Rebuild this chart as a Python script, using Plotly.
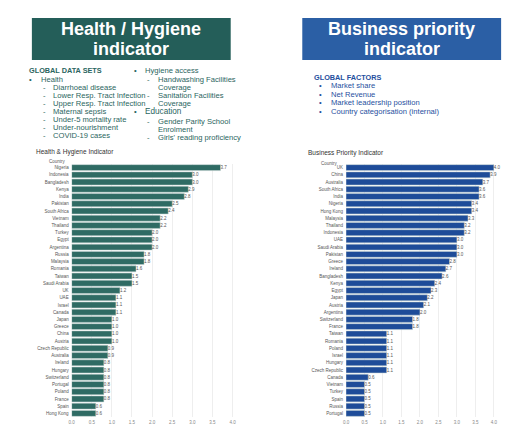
import plotly.graph_objects as go

# Health & Hygiene indicator
hh_countries = ['Nigeria', 'Indonesia', 'Bangladesh', 'Kenya', 'India', 'Pakistan', 'South Africa',
                'Vietnam', 'Thailand', 'Turkey', 'Egypt', 'Argentina', 'Russia', 'Malaysia', 'Romania',
                'Taiwan', 'Saudi Arabia', 'UK', 'UAE', 'Israel', 'Canada', 'Japan', 'Greece', 'China',
                'Austria', 'Czech Republic', 'Australia', 'Ireland', 'Hungary', 'Switzerland',
                'Portugal', 'Poland', 'France', 'Spain', 'Hong Kong']
hh_values = [3.7, 3.0, 3.0, 2.9, 2.8, 2.5, 2.4, 2.2, 2.2, 2.0, 2.0, 2.0, 1.8, 1.8, 1.6, 1.5, 1.5,
             1.2, 1.1, 1.1, 1.1, 1.0, 1.0, 1.0, 1.0, 0.9, 0.9, 0.8, 0.8, 0.8, 0.8, 0.8, 0.8, 0.6, 0.6]

# Business priority indicator
bp_countries = ['UK', 'China', 'Australia', 'South Africa', 'India', 'Nigeria', 'Hong Kong',
                'Malaysia', 'Thailand', 'Indonesia', 'UAE', 'Saudi Arabia', 'Pakistan', 'Greece',
                'Ireland', 'Bangladesh', 'Kenya', 'Egypt', 'Japan', 'Austria', 'Argentina',
                'Switzerland', 'France', 'Taiwan', 'Romania', 'Poland', 'Israel', 'Hungary',
                'Czech Republic', 'Canada', 'Vietnam', 'Turkey', 'Spain', 'Russia', 'Portugal']
bp_values = [4.0, 3.9, 3.7, 3.6, 3.6, 3.4, 3.4, 3.3, 3.2, 3.2, 3.0, 3.0, 3.0, 2.8, 2.7, 2.6, 2.4,
             2.3, 2.2, 2.1, 2.0, 1.8, 1.8, 1.1, 1.1, 1.1, 1.1, 1.1, 1.1, 0.6, 0.5, 0.5, 0.5, 0.5, 0.5]

x_ticks = [0, 0.5, 1, 1.5, 2, 2.5, 3, 3.5, 4]

W, H = 512, 424
FONT = 'Liberation Sans'
TEAL = '#2a6560'
BLUE = '#1f4f9e'


def px(x):
    return x / W


def py(y):
    return 1 - y / H


fig = go.Figure()
for vals, cats, col, ax in [(hh_values, hh_countries, '#2f6b64', ''), (bp_values, bp_countries, '#1e4c99', '2')]:
    fig.add_trace(go.Bar(
        x=vals, y=cats, orientation='h', xaxis='x' + ax, yaxis='y' + ax,
        marker=dict(color=col, line=dict(color='#c9d6d4', width=0.5)),
        width=0.82, text=[f'{v:.1f}' for v in vals], textposition='outside',
        textfont=dict(size=4.5, color='#555'), cliponaxis=False, showlegend=False))

ydom = [py(409), py(156)]
axis_common = dict(range=[0, 4.25], tickvals=x_ticks, ticktext=[f'{t:.1f}' for t in x_ticks],
                   tickfont=dict(size=4.5, color='#888'), showgrid=True, gridcolor='#eeeeee',
                   gridwidth=0.6, zeroline=False, showline=False, ticks='', ticklabelstandoff=1)
ycommon = dict(domain=ydom, autorange='reversed', tickfont=dict(size=4.5, color='#555'),
               ticks='', showgrid=False, ticklabelstandoff=2)

fig.update_layout(
    width=W, height=H, margin=dict(l=0, r=0, t=0, b=0),
    paper_bgcolor='white', plot_bgcolor='white', bargap=0.18,
    font=dict(family=FONT),
    xaxis=dict(domain=[px(61), px(233)], anchor='y', **axis_common),
    yaxis=dict(anchor='x', **ycommon),
    xaxis2=dict(domain=[px(337), px(495)], anchor='y2', **axis_common),
    yaxis2=dict(anchor='x2', **ycommon),
)

# title boxes
fig.add_shape(type='rect', xref='paper', yref='paper', x0=px(21), x1=px(221), y0=py(52), y1=py(10),
              fillcolor='#245e59', line=dict(width=0))
fig.add_shape(type='rect', xref='paper', yref='paper', x0=px(293), x1=px(493), y0=py(52), y1=py(10),
              fillcolor='#2b5fa5', line=dict(width=0))

ann = []


def txt(x, y, s, size=7.6, color=TEAL, anchor='left', bold=False):
    ann.append(dict(x=px(x), y=py(y), xref='paper', yref='paper', text=f'<b>{s}</b>' if bold else s,
                    showarrow=False, xanchor=anchor, yanchor='middle',
                    font=dict(size=size, color=color, family=FONT)))


for cx, lines in [(121, ['Health / Hygiene', 'indicator']), (393, ['Business priority', 'indicator'])]:
    txt(cx, 21, lines[0], size=18, color='white', anchor='center', bold=True)
    txt(cx, 41, lines[1], size=18, color='white', anchor='center', bold=True)

# left text block
txt(16, 62, 'GLOBAL DATA SETS', size=7.3, bold=True)
txt(16, 71, '•'); txt(28, 71, 'Health')
left_sub = [(79.5, 'Diarrhoeal disease'), (87.5, 'Lower Resp. Tract Infection'),
            (95.5, 'Upper Resp. Tract Infection'), (103.5, 'Maternal sepsis'),
            (111, 'Under-5 mortality rate'), (119, 'Under-nourishment'), (127.5, 'COVID-19 cases')]
for y, s in left_sub:
    txt(30, y, '-'); txt(40, y, s)
txt(122, 62, '•'); txt(133, 62, 'Hygiene access')
for y, s, dash in [(71, 'Handwashing Facilities', True), (79.5, 'Coverage', False),
                   (88, 'Sanitation Facilities', True), (96, 'Coverage', False)]:
    if dash:
        txt(135, y, '-')
    txt(146, y, s)
txt(122, 104, '•'); txt(133, 104, 'Education', size=8.2)
for y, s, dash in [(113, 'Gender Parity School', True), (121, 'Enrolment', False),
                   (129.5, "Girls' reading proficiency", True)]:
    if dash:
        txt(135, y, '-')
    txt(146, y, s)

# right text block
txt(303, 69, 'GLOBAL FACTORS', size=7.3, color=BLUE, bold=True)
for y, s in [(77.5, 'Market share'), (86, 'Net Revenue'), (94.5, 'Market leadership position'),
             (103, 'Country categorisation (internal)')]:
    txt(308, y, '•', color=BLUE); txt(320, y, s, color=BLUE)

# chart titles and column headers
txt(23, 144, 'Health & Hygiene Indicator', size=6.5, color='#333')
txt(297, 145, 'Business Priority Indicator', size=6.5, color='#333')
txt(57, 153, 'Country', size=4.5, color='#555', anchor='right')
txt(331, 155, 'Country', size=4.5, color='#555', anchor='right')

fig.update_layout(annotations=ann)
fig.write_html('out.html')
